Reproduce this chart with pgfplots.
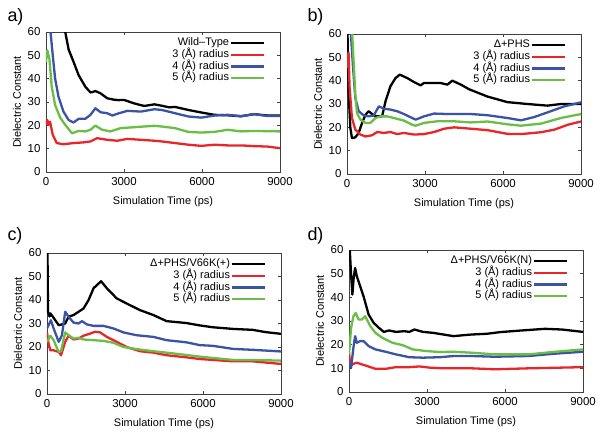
\documentclass[border=0pt]{standalone}
\usepackage{pgfplots}
\pgfplotsset{compat=1.18}
\usepackage{fontspec}
\setmainfont{Liberation Sans}
\definecolor{cred}{RGB}{232,38,42}
\definecolor{cblue}{RGB}{58,83,164}
\definecolor{cgreen}{RGB}{106,189,69}
\pgfplotsset{
  panel/.style={
    scale only axis, width=234bp, height=140bp,
    xmin=0, xmax=9000, ymin=0, ymax=60,
    xtick={0,3000,6000,9000}, ytick={0,10,...,60},
    tick align=inside, major tick length=3bp,
    scaled x ticks=false,
    /pgf/number format/assume math mode=true,
    /pgf/number format/set thousands separator={},
    tick label style={font=\fontsize{11.5}{13}\selectfont},
    xticklabel style={yshift=-2bp},
    yticklabel style={xshift=-2bp},
    label style={font=\fontsize{11}{13}\selectfont},
    xlabel={Simulation Time (ps)}, ylabel={Dielectric Constant},
    xlabel style={yshift=-4bp},
    axis line style={line width=0.5bp, draw=black!75},
    every tick/.style={black!75, line width=0.5bp},
    every axis plot/.append style={line width=2.3bp, line join=round},
    legend style={draw=none, fill=none, at={(0.936,0.965)}, anchor=north east,
      font=\fontsize{11}{13}\selectfont, inner sep=0pt,
      nodes={inner sep=0.5bp, text height=8bp, text depth=2.7bp},
      /tikz/every even column/.append style={column sep=5bp}},
    legend cell align=right, legend plot pos=right,
    legend image code/.code={\draw[##1] (0bp,0bp) -- (33bp,0bp);},
  }
}
\begin{document}
\begin{tikzpicture}
\path (0bp,0bp) rectangle (600bp,-434bp);
% ---------------- a
\begin{axis}[panel, at={(46bp,-32bp)}, anchor=north west]
\addplot[black] coordinates {(600,75) (740,60) (870,52.5) (1060,47.2) (1255,41.5) (1510,36.6) (1710,34.1) (1800,34.3) (1900,34.7) (2100,33.7) (2355,31.6) (2610,31.0) (2800,30.8) (3000,30.9) (3390,29.4) (3780,28.3) (4170,29.0) (4450,28.4) (4750,27.7) (4960,27.9) (5470,26.6) (5975,25.5) (6480,24.5) (6990,24.3) (7500,23.9) (8000,24.8) (8520,24.2) (9000,24.2)};
\addlegendentry{Wild–Type}
\addplot[cred] coordinates {(0,20.2) (50,22.3) (100,20.2) (155,21.6) (260,15.9) (415,12.4) (670,11.9) (1060,12.4) (1450,12.7) (1710,13.1) (1965,14.5) (2355,13.8) (2740,13.4) (3130,14.2) (3650,13.8) (4170,13.4) (4450,13.1) (4960,12.4) (5470,11.7) (5975,11.2) (6480,11.7) (6990,11.4) (7500,11.4) (8000,11.1) (8520,10.9) (9000,10.2)};
\addlegendentry{3 (Å) radius}
\addplot[cblue] coordinates {(100,80) (155,62) (200,57) (260,50) (350,40.1) (480,32.3) (670,25.9) (870,22.3) (1060,21.2) (1255,22.8) (1510,22.8) (1710,24.5) (1900,27.3) (2100,25.6) (2355,25.2) (2550,24.2) (2810,25.2) (3130,26.2) (3650,25.9) (4170,26.9) (4450,26.6) (4960,25.2) (5470,23.8) (5975,23.3) (6480,24.2) (6990,24.5) (7500,23.9) (8000,24.8) (8520,24.0) (9000,24.0)};
\addlegendentry{4 (Å) radius}
\addplot[cgreen] coordinates {(0,47.2) (50,52.2) (130,48.6) (220,36.6) (350,28.7) (545,23.3) (740,20.2) (1000,16.6) (1255,17.6) (1510,17.4) (1710,18.1) (1900,19.9) (2160,18.1) (2480,17.4) (2870,18.8) (3390,19.2) (4170,19.8) (4450,19.5) (4960,18.8) (5470,17.2) (5975,16.9) (6480,17.2) (6990,18.1) (7500,17.4) (8000,17.6) (9000,17.4)};
\addlegendentry{5 (Å) radius}
\end{axis}
% ---------------- b
\begin{axis}[panel, at={(347bp,-34bp)}, anchor=north west]
\addplot[black] coordinates {(0,80) (20,60) (65,34) (130,19.7) (190,15.4) (320,15.7) (450,17.6) (580,21.9) (710,25.4) (835,26.9) (965,25.7) (1095,24.7) (1225,24.7) (1350,24.7) (1480,31.1) (1670,37.6) (1865,41.1) (2030,42.6) (2320,41.1) (2575,39.4) (2830,38) (2960,39) (3350,39) (3600,39) (3860,38.3) (4050,40) (4380,38.3) (4700,36.3) (5400,33.2) (6170,30.8) (6940,30) (7710,29.3) (8230,30) (9000,30)};
\addlegendentry{Δ+PHS}
\addplot[cred] coordinates {(0,45.4) (30,50) (60,52) (100,36.9) (190,24) (320,19) (515,16.9) (710,16.1) (965,16.6) (1160,18) (1415,17.6) (1670,18) (1930,17.1) (2190,17.6) (2575,16.9) (2960,17.1) (3350,18) (3730,19.4) (4120,20) (4760,19.4) (5400,18.8) (6170,17.2) (6690,17.1) (7460,17.9) (7970,19) (8490,21.1) (9000,22.5)};
\addlegendentry{3 (Å) radius}
\addplot[cblue] coordinates {(20,65) (150,60) (230,46) (320,32.6) (450,26.9) (645,25.1) (835,24.7) (1030,25.1) (1225,29) (1415,28) (1670,27.6) (1930,26.9) (2190,25.7) (2450,24.3) (2640,23.3) (2960,24.7) (3350,25.9) (3860,25.7) (4380,25.7) (4760,25.7) (5400,25.2) (6170,24) (6690,23) (7200,24.4) (7710,26.4) (8360,29) (9000,30.7)};
\addlegendentry{4 (Å) radius}
\addplot[cgreen] coordinates {(20,65) (200,60) (320,34) (385,26.1) (515,23.3) (710,21.9) (900,21.9) (1095,24) (1290,24.7) (1545,24.7) (1800,24) (2190,22.9) (2510,21.1) (2640,20.7) (2960,21.9) (3480,22.6) (4120,22.6) (4760,22.1) (5400,22.5) (6170,21.3) (6690,20.7) (7460,21.6) (8230,24) (9000,25.7)};
\addlegendentry{5 (Å) radius}
\end{axis}
% ---------------- c
\begin{axis}[panel, height=141bp, at={(47bp,-253bp)}, anchor=north west]
\addplot[black] coordinates {(10,70) (40,35) (100,33) (130,34.3) (255,32.4) (450,29.3) (575,29.6) (700,30) (830,32.9) (1020,33.6) (1215,35) (1405,36.4) (1600,40) (1790,45) (2080,48) (2300,45) (2680,40.7) (3065,38.5) (3575,35.7) (4090,33.6) (4600,31) (5360,30.2) (5870,29.2) (6380,28.4) (7150,27.7) (7910,27.3) (8430,26.3) (9000,25.6)};
\addlegendentry{Δ+PHS/V66K(+)}
\addplot[cred] coordinates {(0,26.2) (60,21.5) (130,18.6) (255,18.6) (450,17.9) (540,16.5) (700,22.2) (830,24.8) (1020,23.2) (1215,23.6) (1405,24.8) (1660,25.7) (1850,26.5) (2045,26.2) (2300,24.3) (2680,22.2) (3065,20) (3575,18.2) (4090,17.6) (4600,16.5) (5360,15.6) (5870,14.9) (7150,13.9) (7910,13.9) (9000,12.8)};
\addlegendentry{3 (Å) radius}
\addplot[cblue] coordinates {(0,27.9) (60,29.3) (150,31.4) (255,27.9) (450,22.2) (575,25) (700,35) (830,32.9) (1020,30.4) (1215,30) (1345,31) (1535,29.6) (1790,29) (2170,29) (2555,27.9) (2940,26.2) (3450,25) (4090,24.3) (4600,22.9) (5360,22) (5870,20.8) (6380,20.5) (7150,19.2) (7910,18.8) (9000,18.1)};
\addlegendentry{4 (Å) radius}
\addplot[cgreen] coordinates {(0,22.2) (130,24.8) (255,22.9) (450,17.9) (540,18.2) (700,26.2) (830,25) (1020,23.6) (1215,23.9) (1405,23.2) (1790,22.9) (2170,22.6) (2555,21.8) (2940,20) (3450,19.1) (4090,18.2) (4600,17.6) (5360,16.6) (5870,15.9) (7150,14.5) (7910,14.5) (9000,14.2)};
\addlegendentry{5 (Å) radius}
\end{axis}
% ---------------- d
\begin{axis}[panel, height=142bp, at={(349bp,-250bp)}, anchor=north west]
\addplot[black] coordinates {(0,65) (30,60) (80,49.6) (130,41.2) (180,48.2) (235,52.4) (300,48.9) (365,46.8) (450,44) (560,40.4) (755,32.7) (950,29.2) (1150,27.1) (1340,25.4) (1540,26) (1800,25.4) (2125,25.7) (2320,25.4) (2515,26.4) (2840,25.4) (3230,25) (3625,24.3) (4020,23.6) (4400,24) (4730,24.3) (5300,24.6) (5810,25.3) (6640,26) (7540,26.7) (8190,26.4) (9000,25.4)};
\addlegendentry{Δ+PHS/V66K(N)}
\addplot[cred] coordinates {(0,16.6) (50,11) (170,11.9) (300,12.4) (430,11.9) (690,11) (1015,9.8) (1410,9.8) (1800,10.5) (2320,10.5) (2710,10.8) (3100,10.3) (3625,10) (4730,10) (5610,9.6) (6900,10) (9000,10.5)};
\addlegendentry{3 (Å) radius}
\addplot[cblue] coordinates {(0,12.4) (80,10.3) (170,18.7) (235,23.6) (300,20.8) (430,21.5) (560,21.5) (755,19.4) (1015,18) (1410,17) (1800,15.9) (2320,14.7) (2840,14.5) (3490,14.7) (4020,15.2) (4730,15.2) (5610,14.9) (6900,15.2) (7930,16.2) (9000,17)};
\addlegendentry{4 (Å) radius}
\addplot[cgreen] coordinates {(0,15.9) (80,27.1) (170,32) (260,33.4) (365,30.6) (495,30.6) (625,32) (820,27.8) (1015,25) (1280,22.9) (1670,20.8) (2060,19.8) (2450,18) (2970,17.3) (3490,16.9) (4020,17) (4730,16.6) (5610,15.9) (6900,15.9) (7930,17) (9000,18)};
\addlegendentry{5 (Å) radius}
\end{axis}
\node[anchor=base west, font=\fontsize{18}{20}\selectfont] at (4bp,-21bp) {a)};
\node[anchor=base west, font=\fontsize{18}{20}\selectfont] at (304bp,-21bp) {b)};
\node[anchor=base west, font=\fontsize{18}{20}\selectfont] at (4bp,-240bp) {c)};
\node[anchor=base west, font=\fontsize{18}{20}\selectfont] at (304bp,-240bp) {d)};
\end{tikzpicture}
\end{document}
